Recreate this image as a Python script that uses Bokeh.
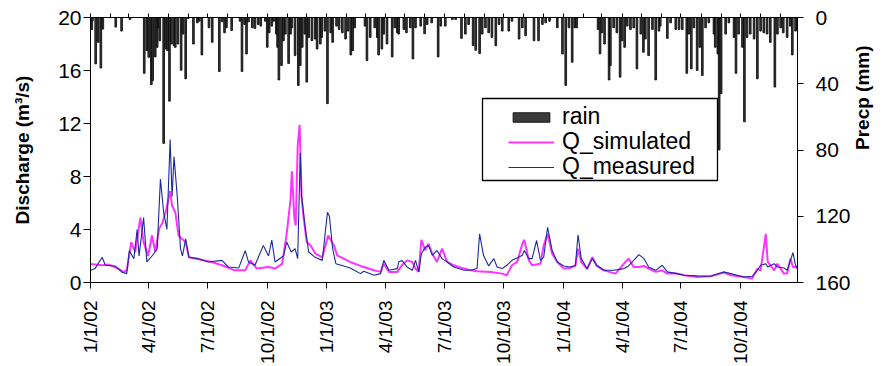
import math
import pandas as pd
from bokeh.plotting import figure
from bokeh.models import (Range1d, LinearAxis, FixedTicker, Legend, LegendItem,
                          BoxAnnotation)
from bokeh.embed import file_html
from bokeh.resources import INLINE

# ---------------- data (day offsets from 1/1/02) ----------------
start_date = "2002-01-01"
tick_labels = ["1/1/02", "4/1/02", "7/1/02", "10/1/02",
               "1/1/03", "4/1/03", "7/1/03", "10/1/03",
               "1/1/04", "4/1/04", "7/1/04", "10/1/04"]
q_ticks = [0, 4, 8, 12, 16, 20]
rain_ticks = [0, 40, 80, 120, 160]
legend_labels = ["rain", "Q_simulated", "Q_measured"]

meas_day = [0, 7, 18, 23, 38, 48, 56, 60, 67, 72, 75, 82, 87, 95, 103, 108, 113, 118,
            123, 126, 129, 134, 139, 142, 147, 152, 167, 182, 203, 213, 229, 239, 244,
            254, 267, 275, 280, 285, 298, 303, 310, 316, 320, 324, 326, 332, 337, 347,
            358, 366, 369, 374, 379, 391, 401, 417, 422, 438, 448, 453, 461, 474, 476,
            481, 489, 497, 502, 507, 511, 517, 522, 528, 535, 543, 551, 561, 577, 587,
            597, 601, 607, 615, 623, 628, 636, 643, 651, 659, 667, 670, 677, 682, 689,
            695, 700, 706, 713, 721, 731, 741, 749, 753, 758, 767, 775, 782, 793, 808,
            824, 831, 839, 847, 855, 862, 873, 883, 891, 906, 917, 937, 958, 978, 989,
            1009, 1022, 1030, 1035, 1043, 1046, 1056, 1061, 1071, 1076, 1085, 1089, 1092]
meas_q = [0.9, 1.05, 1.9, 1.3, 1.25, 0.8, 0.67, 2.4, 1.8, 4.0, 2.0, 4.9, 1.55, 2.0, 2.55,
          7.8, 5.3, 4.0, 10.8, 6.5, 9.5, 6.5, 2.55, 2.0, 3.3, 1.9, 1.8, 1.55, 1.67, 1.17,
          1.1, 2.4, 1.55, 1.3, 2.8, 2.0, 3.2, 1.55, 2.0, 3.05, 2.3, 2.55, 1.8, 9.8, 6.5,
          4.0, 2.3, 1.9, 1.67, 5.3, 5.0, 2.55, 1.42, 1.25, 1.1, 0.67, 0.85, 0.55, 0.67,
          1.67, 0.92, 1.05, 1.55, 1.67, 1.17, 0.92, 1.67, 0.8, 2.17, 2.67, 2.8, 2.05,
          2.42, 1.8, 1.55, 1.17, 0.92, 0.92, 1.05, 3.67, 2.05, 1.25, 1.8, 1.17, 1.05,
          1.3, 1.67, 1.85, 2.05, 2.42, 1.8, 1.8, 3.17, 1.67, 1.92, 4.17, 2.42, 1.55,
          1.25, 1.17, 1.3, 3.6, 1.8, 1.05, 1.8, 1.3, 0.92, 0.92, 1.05, 1.25, 1.67, 2.1,
          1.8, 1.17, 0.92, 1.3, 0.8, 0.67, 0.55, 0.5, 0.47, 0.8, 0.67, 0.42, 0.47, 0.92,
          1.3, 1.42, 1.17, 1.42, 1.17, 1.1, 0.92, 2.25, 1.3, 1.05]

sim_day = [0, 18, 28, 43, 51, 56, 63, 69, 77, 82, 89, 95, 100, 106, 111, 117, 123, 126,
           131, 136, 141, 147, 152, 167, 187, 203, 223, 239, 247, 257, 275, 285, 296, 303,
           309, 311, 315, 317, 320, 323, 326, 329, 334, 340, 347, 358, 367, 371, 376, 381,
           391, 401, 417, 438, 448, 453, 461, 474, 481, 489, 497, 502, 507, 511, 517, 522,
           528, 535, 543, 551, 561, 577, 587, 597, 618, 636, 643, 651, 659, 667, 670, 677,
           682, 695, 700, 706, 713, 721, 731, 741, 749, 753, 758, 767, 775, 782, 793, 811,
           824, 831, 839, 847, 855, 862, 873, 883, 891, 906, 917, 937, 958, 978, 989, 1009,
           1022, 1030, 1035, 1043, 1046, 1056, 1061, 1071, 1076, 1081, 1085, 1089, 1092]
sim_q = [1.4, 1.3, 1.35, 1.05, 0.8, 0.92, 3.05, 2.3, 4.9, 3.05, 2.0, 3.55, 2.3, 4.05, 4.5,
         5.5, 6.9, 5.8, 5.3, 3.55, 3.3, 3.05, 1.9, 1.75, 1.55, 1.3, 0.92, 0.92, 1.67, 1.05,
         1.17, 1.05, 1.4, 3.67, 6.3, 8.4, 4.8, 4.3, 10.3, 11.9, 6.5, 5.0, 3.05, 2.8, 2.2,
         1.9, 3.55, 3.2, 2.8, 2.05, 1.8, 1.55, 1.25, 0.92, 0.8, 1.42, 0.8, 0.8, 1.3, 1.67,
         1.55, 1.05, 0.8, 3.22, 2.42, 2.92, 2.17, 1.55, 2.55, 1.55, 1.3, 1.05, 0.92, 0.85,
         0.8, 0.67, 0.55, 1.3, 1.55, 2.92, 3.22, 1.67, 1.3, 1.42, 2.8, 3.67, 2.17, 1.55,
         1.05, 1.1, 1.25, 2.55, 1.55, 1.0, 1.92, 1.25, 0.92, 0.67, 1.42, 1.8, 1.17, 1.17,
         1.25, 1.05, 0.8, 0.92, 0.67, 0.67, 0.55, 0.42, 0.47, 0.75, 0.55, 0.42, 0.3, 1.05,
         0.92, 3.67, 1.55, 0.92, 1.42, 0.67, 0.67, 1.8, 1.17, 1.17, 1.05]

rain_day = [2, 3, 8, 12, 16, 19, 39, 48, 61, 83, 87, 90, 94, 96, 100, 103, 105, 107, 113,
            116, 119, 122, 125, 129, 131, 135, 140, 143, 147, 151, 159, 165, 168, 172, 183,
            188, 199, 203, 207, 210, 218, 231, 234, 238, 241, 244, 250, 254, 259, 263, 270,
            273, 276, 280, 283, 287, 289, 291, 295, 298, 301, 306, 309, 311, 316, 321, 324,
            327, 331, 334, 337, 342, 347, 350, 355, 357, 362, 366, 371, 374, 380, 384, 389,
            394, 398, 402, 405, 408, 424, 427, 432, 439, 443, 445, 450, 453, 458, 466, 470,
            474, 476, 484, 488, 494, 498, 502, 510, 516, 520, 527, 537, 541, 548, 559, 564,
            573, 579, 584, 591, 595, 601, 605, 610, 615, 620, 626, 631, 636, 646, 651, 662,
            667, 672, 685, 692, 698, 703, 709, 721, 729, 734, 739, 744, 748, 751, 784, 787,
            790, 794, 801, 803, 808, 813, 818, 821, 825, 829, 834, 839, 844, 850, 854, 857,
            862, 868, 873, 878, 880, 891, 896, 904, 909, 914, 921, 924, 928, 932, 937, 941,
            945, 950, 955, 963, 965, 969, 971, 974, 981, 986, 994, 997, 1001, 1007, 1010,
            1014, 1019, 1025, 1030, 1035, 1040, 1045, 1050, 1057, 1061, 1066, 1070, 1076,
            1081, 1084, 1089, 1092]
rain_mm = [7.2, 2, 28, 15, 30.5, 7, 5.8, 8.2, 1.2, 33.7, 20, 24, 40.5, 38, 23.8, 18, 6.2,
           14, 76, 19, 20, 50.5, 16, 17, 18, 16, 31.8, 10, 37, 0.6, 16, 3.2, 2.2, 22.6, 6.2,
           15, 32.6, 2.6, 9.2, 6.2, 7.8, 2.2, 32.6, 4.2, 22, 2.6, 6.2, 6.6, 4.2, 5.2, 2.2,
           18, 9.2, 5.2, 2.2, 10, 18, 37.7, 29, 14, 10, 27.8, 10, 6.2, 23, 41, 29, 18, 10,
           39, 12, 14, 13, 19, 16, 12, 8.2, 52, 9.2, 15, 5.2, 7.2, 9.2, 13, 8.2, 22.6, 20,
           6.2, 5.2, 26, 12, 6.2, 12, 22.6, 19, 10, 16, 23.8, 6.2, 9.2, 10, 7.2, 9.2, 6.2,
           25, 6.2, 5.2, 9.8, 4.2, 3.2, 23.8, 5.2, 5.2, 1.2, 1.2, 12.6, 10, 4.2, 17, 19.8,
           21.8, 10, 6.2, 9.2, 12, 17, 4.2, 8.2, 8.2, 2.2, 13, 6.2, 11, 14, 14, 4.2, 3.2,
           2.2, 6.2, 22, 41, 6.2, 27, 6.2, 6.2, 7.2, 22, 9.2, 16, 37.7, 29, 6.2, 9.2, 36,
           14, 18, 5.2, 7.2, 6.2, 31, 10, 21, 13, 23, 7.2, 37.7, 8.2, 5.2, 12.6, 3.2, 7.2,
           7.2, 7.2, 33.7, 10, 31, 6.2, 32, 18, 35, 6.2, 3.2, 10, 18, 22, 80, 46, 10, 3.2,
           12, 33.7, 10, 18, 63, 12, 10, 13, 37, 8.2, 9.2, 10, 15, 42, 10, 6.2, 9.2, 12,
           5.2, 22.6, 8.2, 7.2]

t0 = pd.Timestamp(start_date)
tick_days = [int((pd.to_datetime(s, format="%m/%d/%y") - t0).days) for s in tick_labels]
month_days = [int((d - t0).days) for d in pd.date_range("2002-01-01", "2004-12-01", freq="MS")]

FONT = "Liberation Sans"

p = figure(width=888, height=366, output_backend="svg", toolbar_location=None,
           x_range=Range1d(0, 1092), y_range=Range1d(0, 20),
           x_axis_type=None, y_axis_type=None,
           min_border_left=90, min_border_right=91, min_border_top=17, min_border_bottom=82)
p.extra_y_ranges = {"rain": Range1d(160, 0)}
p.outline_line_color = "black"
p.outline_line_width = 1
p.background_fill_color = "white"
p.border_fill_color = "white"


def style(ax, tick_out=7, size="21px"):
    ax.axis_line_color = "black"
    ax.axis_line_width = 1
    ax.major_tick_line_color = "black"
    ax.major_tick_in = 0
    ax.major_tick_out = tick_out
    ax.minor_tick_line_color = None
    ax.major_label_text_font = FONT
    ax.major_label_text_font_size = size
    ax.major_label_text_color = "black"
    ax.axis_label_text_font = FONT
    ax.axis_label_text_font_size = "19px"
    ax.axis_label_text_font_style = "bold"
    ax.axis_label_text_color = "black"


left = LinearAxis(ticker=FixedTicker(ticks=q_ticks), axis_label="Discharge (m\u00b3/s)")
style(left)
left.major_label_standoff = 2
left.axis_label_standoff = 22
p.add_layout(left, "left")

right = LinearAxis(y_range_name="rain", ticker=FixedTicker(ticks=rain_ticks),
                   axis_label="Precp (mm)")
style(right, tick_out=6)
right.major_label_standoff = 12
right.axis_label_standoff = 9
if "axis_label_orientation" in right.properties():
    right.axis_label_orientation = math.pi / 2
p.add_layout(right, "right")

bottom = LinearAxis(ticker=FixedTicker(ticks=tick_days),
                    major_label_overrides={d: s for d, s in zip(tick_days, tick_labels)})
style(bottom, tick_out=6, size="19px")
bottom.major_label_orientation = math.pi / 2
bottom.major_label_standoff = 12
p.add_layout(bottom, "below")

# monthly tick marks along the top edge (minor ticks only, no labels)
top = LinearAxis(ticker=FixedTicker(ticks=[], minor_ticks=month_days))
style(top, tick_out=4)
top.minor_tick_line_color = "black"
top.minor_tick_in = 0
top.minor_tick_out = 4
p.add_layout(top, "above")

bars = p.vbar(x=rain_day, width=2.6, top=rain_mm, bottom=0, y_range_name="rain",
              fill_color="#3a3a3a", line_color="black", line_width=0.8)
sim = p.line(sim_day, sim_q, line_color="#FF33FF", line_width=2)
meas = p.line(meas_day, meas_q, line_color="#1A2A9C", line_width=1.1)

# legend frame
p.add_layout(BoxAnnotation(left=392, right=627, bottom=102, top=184,
                           left_units="screen", right_units="screen",
                           bottom_units="screen", top_units="screen",
                           fill_color="white", fill_alpha=1.0,
                           line_color="black", line_width=1.3, line_alpha=1.0))

# one legend per entry, stacked 25 px apart
for i, (lab, rend) in enumerate(zip(legend_labels, [bars, sim, meas])):
    lg = Legend(items=[LegendItem(label=lab, renderers=[rend])],
                location=(418, 152 - 25 * i), padding=0, spacing=0, margin=0,
                glyph_width=46, glyph_height=12, label_height=25, label_standoff=8,
                label_text_font=FONT, label_text_font_size="23px",
                label_text_color="black",
                border_line_alpha=0, background_fill_alpha=0)
    p.add_layout(lg, "center")

open("out.html", "w").write(file_html(p, INLINE))
